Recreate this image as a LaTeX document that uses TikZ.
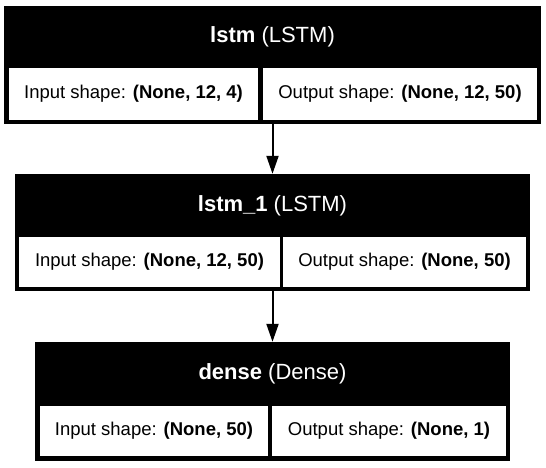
\documentclass[tikz,border=0pt]{standalone}
\usepackage{fontspec}
\setmainfont{Liberation Sans}
\usetikzlibrary{arrows.meta}
\begin{document}
\begin{tikzpicture}[x=1pt,y=-1pt,
  layer/.style={rectangle, fill=black, draw=none, inner sep=0pt},
  headtxt/.style={text=white, inner sep=0pt, font=\fontsize{22}{26}\selectfont},
  cell/.style={rectangle, fill=white, draw=none, inner sep=0pt, font=\fontsize{18.5}{22}\selectfont},
  arr/.style={line width=2pt, -{Triangle[length=18pt,width=12pt]}}
]
\useasboundingbox[fill=white] (0,0) rectangle (546,467);
% layer 1
\node[layer, minimum width=537pt, minimum height=118pt] (l1) at (272.5,65) {};
\node[headtxt] (l1h) at (272.5,37) {\textbf{lstm} (LSTM)};
\node[cell, minimum width=249pt, minimum height=52pt] (l1i) at (133.5,94) {Input shape: \textbf{(None, 12, 4)}};
\node[cell, minimum width=274pt, minimum height=52pt] (l1o) at (400,94) {Output shape: \textbf{(None, 12, 50)}};
% layer 2
\node[layer, minimum width=515pt, minimum height=117pt] (l2) at (272.5,232.5) {};
\node[headtxt] (l2h) at (272.5,205.5) {\textbf{lstm\_1} (LSTM)};
\node[cell, minimum width=261pt, minimum height=50pt] (l2i) at (149.5,262) {Input shape: \textbf{(None, 12, 50)}};
\node[cell, minimum width=243pt, minimum height=50pt] (l2o) at (404.5,262) {Output shape: \textbf{(None, 50)}};
% layer 3
\node[layer, minimum width=475pt, minimum height=119pt] (l3) at (272.5,401.5) {};
\node[headtxt] (l3h) at (272.5,374) {\textbf{dense} (Dense)};
\node[cell, minimum width=228pt, minimum height=50pt] (l3i) at (154,431) {Input shape: \textbf{(None, 50)}};
\node[cell, minimum width=234pt, minimum height=50pt] (l3o) at (389,431) {Output shape: \textbf{(None, 1)}};
% arrows
\draw[arr] (l1) -- (l2);
\draw[arr] (l2) -- (l3);
\end{tikzpicture}
\end{document}
